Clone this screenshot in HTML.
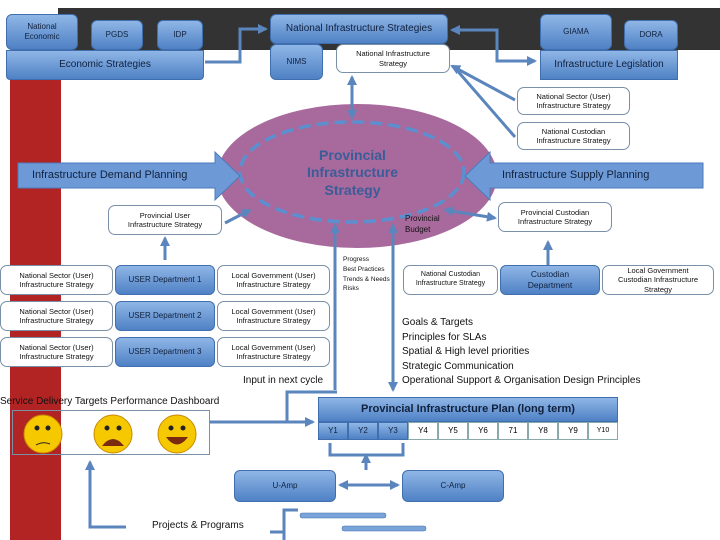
<!DOCTYPE html>
<html><head><meta charset="utf-8"><style>
body{margin:0;width:720px;height:540px;position:relative;background:#fff;overflow:hidden;font-family:"Liberation Sans",sans-serif;}
.a{position:absolute;box-sizing:border-box;display:flex;align-items:center;justify-content:center;text-align:center;line-height:1.25;}
.b{background:linear-gradient(#8fb6e6,#4f81c5);border:1px solid #3f6fae;border-radius:6px;color:#10213d;}
.w{background:#fff;border:1px solid #7a8fa8;border-radius:7px;color:#111;font-size:7.5px;}
.t{position:absolute;color:#111;white-space:nowrap;}
</style></head><body>
<div style="position:absolute;left:58px;top:8px;width:662px;height:42px;background:#333;"></div>
<div style="position:absolute;left:10px;top:80px;width:51px;height:460px;background:#b22424;"></div>

<svg width="720" height="540" style="position:absolute;left:0;top:0">
<defs><marker id="m" markerUnits="userSpaceOnUse" markerWidth="10" markerHeight="10" refX="8" refY="5" orient="auto-start-reverse"><path d="M0,0L10,5L0,10z" fill="#5b85bd"/></marker></defs>
<ellipse cx="357" cy="176" rx="140" ry="72" fill="#a86a9c"/>
<ellipse cx="352" cy="172" rx="112" ry="50" fill="none" stroke="#5b8fd0" stroke-width="3.5" stroke-dasharray="12,6"/>
<g stroke="#5b85bd" stroke-width="3" fill="none">
<path d="M205,62H240V29H266" marker-end="url(#m)"/>
<path d="M452,30H497V61H535" marker-start="url(#m)" marker-end="url(#m)"/>
<path d="M352,77V118" marker-start="url(#m)" marker-end="url(#m)"/>
<path d="M452,66L515,100" marker-start="url(#m)"/>
<path d="M455,68L515,137"/>
<path d="M225,223L250,210" marker-end="url(#m)"/>
<path d="M445,210L495,218" marker-start="url(#m)" marker-end="url(#m)"/>
<path d="M165,260V238" marker-end="url(#m)"/>
<path d="M548,265V242" marker-end="url(#m)"/>
<path d="M335,390V225" marker-end="url(#m)"/>
<path d="M393,225V390" marker-start="url(#m)" marker-end="url(#m)"/>
<path d="M210,422H313" marker-end="url(#m)"/>
<path d="M287,422V392H337"/>
<path d="M330,443V455H403V443"/>
<path d="M366,470V455" marker-end="url(#m)"/>
<path d="M340,485H398" marker-start="url(#m)" marker-end="url(#m)"/>
<path d="M126,527H90V462" marker-end="url(#m)"/>
<path d="M270,532H284V510H298"/>
<path d="M284,532V540"/>
</g>
<rect x="300" y="513" width="86" height="5" rx="2" fill="#7aa3d8" stroke="#3f6fae" stroke-width="0.5"/>
<rect x="342" y="526" width="84" height="5" rx="2" fill="#7aa3d8" stroke="#3f6fae" stroke-width="0.5"/>
<polygon points="18,163 215,163 215,152 240,176 215,200 215,188 18,188" fill="#6d9ad6" stroke="#4a7bbd"/>
<polygon points="703,163 490,163 490,152 465,176 490,200 490,188 703,188" fill="#6d9ad6" stroke="#4a7bbd"/>
<g stroke="#c98a00">
<circle cx="43" cy="434" r="19" fill="#f5c800"/><circle cx="113" cy="434" r="19" fill="#f5c800"/><circle cx="177" cy="434" r="19" fill="#f5c800"/>
</g>
<path d="M102,446Q113,432 124,446Z" fill="#7a2a10"/><path d="M166,437Q177,452 188,437Z" fill="#7a2a10"/>
<path d="M36,445Q43,441 50,444" stroke="#222" fill="none"/>
<g fill="#222"><circle cx="37" cy="428" r="2.5"/><circle cx="48" cy="428" r="2.5"/><circle cx="107" cy="428" r="2.5"/><circle cx="119" cy="428" r="2.5"/><circle cx="171" cy="428" r="2.5"/><circle cx="183" cy="428" r="2.5"/></g>
</svg>

<div class="a b" style="left:6px;top:14px;width:72px;height:36px;font-size:8px;">National<br>Economic</div>
<div class="a b" style="left:91px;top:20px;width:52px;height:30px;font-size:8px;">PGDS</div>
<div class="a b" style="left:157px;top:20px;width:46px;height:30px;font-size:8px;">IDP</div>
<div class="a b" style="left:6px;top:50px;width:198px;height:30px;font-size:10px;border-radius:0 0 4px 4px;">Economic Strategies</div>
<div class="a b" style="left:270px;top:14px;width:178px;height:30px;font-size:10px;">National Infrastructure Strategies</div>
<div class="a b" style="left:270px;top:44px;width:53px;height:36px;font-size:8px;">NIMS</div>
<div class="a w" style="left:336px;top:44px;width:114px;height:29px;">National Infrastructure<br>Strategy</div>
<div class="a b" style="left:540px;top:14px;width:72px;height:36px;font-size:8px;">GIAMA</div>
<div class="a b" style="left:624px;top:20px;width:54px;height:30px;font-size:8px;">DORA</div>
<div class="a b" style="left:540px;top:50px;width:138px;height:30px;font-size:10px;border-radius:0;">Infrastructure Legislation</div>
<div class="a w" style="left:517px;top:87px;width:113px;height:28px;">National Sector (User)<br>Infrastructure Strategy</div>
<div class="a w" style="left:517px;top:122px;width:113px;height:28px;">National Custodian<br>Infrastructure Strategy</div>
<div class="a" style="left:285px;top:142px;width:135px;height:62px;font-size:14px;font-weight:bold;color:#3a5c98;">Provincial<br>Infrastructure<br>Strategy</div>
<div class="t" style="left:32px;top:169px;font-size:11px;color:#10213d;">Infrastructure Demand Planning</div>
<div class="t" style="left:502px;top:169px;font-size:11px;color:#10213d;">Infrastructure Supply Planning</div>
<div class="a w" style="left:108px;top:205px;width:114px;height:30px;">Provincial User<br>Infrastructure Strategy</div>
<div class="a w" style="left:498px;top:202px;width:114px;height:30px;">Provincial Custodian<br>Infrastructure Strategy</div>
<div class="t" style="left:405px;top:213px;font-size:8px;line-height:1.4;">Provincial<br>Budget</div>

<div class="a w" style="left:0;top:265px;width:113px;height:30px;">National Sector (User)<br>Infrastructure Strategy</div>
<div class="a b" style="left:115px;top:265px;width:100px;height:30px;font-size:8px;">USER Department 1</div>
<div class="a w" style="left:217px;top:265px;width:113px;height:30px;">Local Government (User)<br>Infrastructure Strategy</div>
<div class="a w" style="left:0;top:301px;width:113px;height:30px;">National Sector (User)<br>Infrastructure Strategy</div>
<div class="a b" style="left:115px;top:301px;width:100px;height:30px;font-size:8px;">USER Department 2</div>
<div class="a w" style="left:217px;top:301px;width:113px;height:30px;">Local Government (User)<br>Infrastructure Strategy</div>
<div class="a w" style="left:0;top:337px;width:113px;height:30px;">National Sector (User)<br>Infrastructure Strategy</div>
<div class="a b" style="left:115px;top:337px;width:100px;height:30px;font-size:8px;">USER Department 3</div>
<div class="a w" style="left:217px;top:337px;width:113px;height:30px;">Local Government (User)<br>Infrastructure Strategy</div>
<div class="t" style="left:343px;top:255px;font-size:6.5px;line-height:1.5;">Progress<br>Best Practices<br>Trends &amp; Needs<br>Risks</div>

<div class="a w" style="left:403px;top:265px;width:95px;height:30px;font-size:7px;">National Custodian<br>Infrastructure Strategy</div>
<div class="a b" style="left:500px;top:265px;width:100px;height:30px;font-size:8.5px;">Custodian<br>Department</div>
<div class="a w" style="left:602px;top:265px;width:112px;height:30px;">Local Government<br>Custodian Infrastructure<br>Strategy</div>
<div class="t" style="left:402px;top:316px;font-size:10px;line-height:14.5px;">Goals &amp; Targets<br>Principles for SLAs<br>Spatial &amp; High level priorities<br>Strategic Communication<br>Operational Support &amp; Organisation Design Principles</div>
<div class="t" style="left:243px;top:375px;font-size:10px;">Input in next cycle</div>
<div class="t" style="left:0;top:396px;font-size:10px;">Service Delivery Targets Performance Dashboard</div>
<div style="position:absolute;left:12px;top:410px;width:198px;height:45px;border:1px solid #7a8fa8;box-sizing:border-box;"></div>

<div class="a b" style="left:318px;top:397px;width:300px;height:25px;font-size:11px;font-weight:bold;border-radius:0;">Provincial Infrastructure Plan (long term)</div>
<div style="position:absolute;left:318px;top:422px;width:300px;height:18px;display:flex;font-size:8px;">
<div class="a b" style="position:static;width:30px;border-radius:0">Y1</div><div class="a b" style="position:static;width:30px;border-radius:0">Y2</div><div class="a b" style="position:static;width:30px;border-radius:0">Y3</div>
<div class="a" style="position:static;width:30px;border:1px solid #8aa">Y4</div><div class="a" style="position:static;width:30px;border:1px solid #8aa">Y5</div><div class="a" style="position:static;width:30px;border:1px solid #8aa">Y6</div><div class="a" style="position:static;width:30px;border:1px solid #8aa">71</div><div class="a" style="position:static;width:30px;border:1px solid #8aa">Y8</div><div class="a" style="position:static;width:30px;border:1px solid #8aa">Y9</div><div class="a" style="position:static;width:30px;border:1px solid #8aa;font-size:7px">Y10</div></div>
<div class="a b" style="left:234px;top:470px;width:102px;height:32px;font-size:8px;">U-Amp</div>
<div class="a b" style="left:402px;top:470px;width:102px;height:32px;font-size:8px;">C-Amp</div>
<div class="t" style="left:152px;top:520px;font-size:10px;">Projects &amp; Programs</div>
</body></html>
